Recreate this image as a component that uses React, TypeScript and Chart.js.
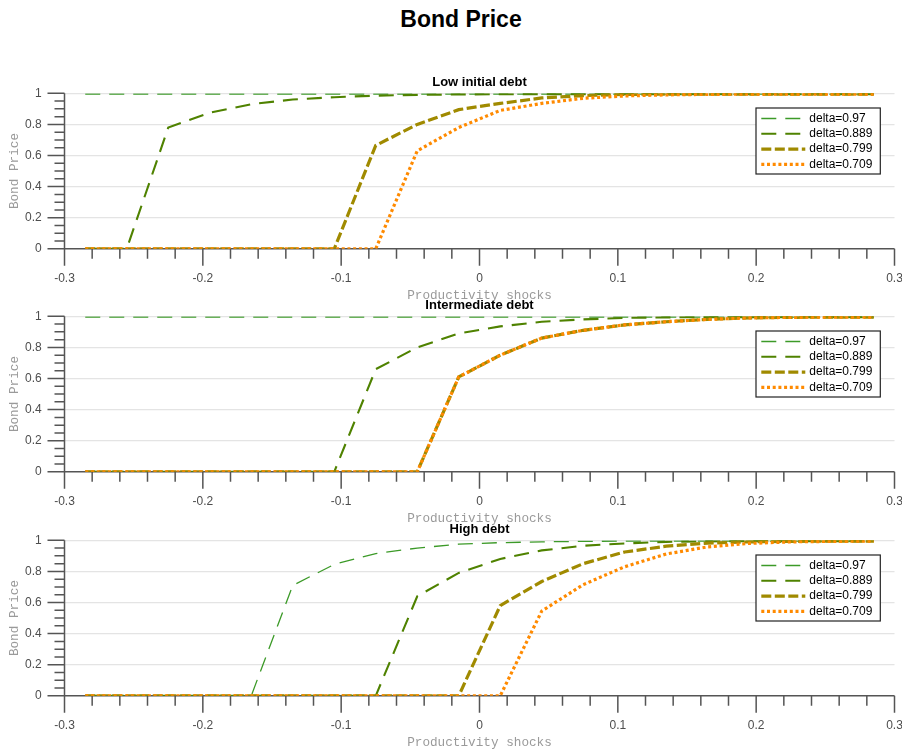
import React, { useEffect, useRef } from "react";
import { Chart, registerables } from "chart.js";

Chart.register(...registerables);

// ---------- data ----------
const shocks = [
  -0.285, -0.255, -0.225, -0.195, -0.165, -0.135, -0.105, -0.075, -0.045, -0.015,
  0.015, 0.045, 0.075, 0.105, 0.135, 0.165, 0.195, 0.225, 0.255, 0.285,
];

const deltaLabels = ["delta=0.97", "delta=0.889", "delta=0.799", "delta=0.709"];
const panelTitles = ["Low initial debt", "Intermediate debt", "High debt"];
const mainTitle = "Bond Price";
const xAxisTitle = "Productivity shocks";
const yAxisTitle = "Bond Price";

// Low initial debt
const lowD097 = [0.995, 0.995, 0.995, 0.995, 0.995, 0.995, 0.995, 0.995, 0.995, 0.995, 0.995, 0.995, 0.995, 0.995, 0.995, 0.995, 0.995, 0.995, 0.995, 0.995];
const lowD0889 = [0, 0, 0.78, 0.875, 0.93, 0.96, 0.975, 0.985, 0.99, 0.993, 0.994, 0.995, 0.995, 0.995, 0.995, 0.995, 0.995, 0.995, 0.995, 0.995];
const lowD0799 = [0, 0, 0, 0, 0, 0, 0, 0.665, 0.8, 0.895, 0.935, 0.97, 0.985, 0.993, 0.995, 0.995, 0.995, 0.995, 0.995, 0.995];
const lowD0709 = [0, 0, 0, 0, 0, 0, 0, 0, 0.63, 0.78, 0.89, 0.935, 0.968, 0.983, 0.99, 0.993, 0.995, 0.995, 0.995, 0.995];

// Intermediate debt
const midD097 = [0.995, 0.995, 0.995, 0.995, 0.995, 0.995, 0.995, 0.995, 0.995, 0.995, 0.995, 0.995, 0.995, 0.995, 0.995, 0.995, 0.995, 0.995, 0.995, 0.995];
const midD0889 = [0, 0, 0, 0, 0, 0, 0, 0.66, 0.8, 0.89, 0.935, 0.965, 0.98, 0.99, 0.993, 0.995, 0.995, 0.995, 0.995, 0.995];
const midD0799 = [0, 0, 0, 0, 0, 0, 0, 0, 0, 0.61, 0.75, 0.86, 0.91, 0.945, 0.965, 0.98, 0.99, 0.993, 0.995, 0.995];
const midD0709 = [0, 0, 0, 0, 0, 0, 0, 0, 0, 0.61, 0.75, 0.86, 0.91, 0.945, 0.965, 0.98, 0.99, 0.993, 0.995, 0.995];

// High debt
const highD097 = [0, 0, 0, 0, 0, 0.71, 0.845, 0.915, 0.95, 0.975, 0.985, 0.99, 0.993, 0.995, 0.995, 0.995, 0.995, 0.995, 0.995, 0.995];
const highD0889 = [0, 0, 0, 0, 0, 0, 0, 0, 0.64, 0.79, 0.88, 0.935, 0.965, 0.98, 0.99, 0.993, 0.995, 0.995, 0.995, 0.995];
const highD0799 = [0, 0, 0, 0, 0, 0, 0, 0, 0, 0, 0.58, 0.735, 0.85, 0.925, 0.962, 0.982, 0.99, 0.993, 0.995, 0.995];
const highD0709 = [0, 0, 0, 0, 0, 0, 0, 0, 0, 0, 0, 0.545, 0.715, 0.83, 0.912, 0.958, 0.98, 0.99, 0.993, 0.995];

const panelSeries = [
  [lowD097, lowD0889, lowD0799, lowD0709],
  [midD097, midD0889, midD0799, midD0709],
  [highD097, highD0889, highD0799, highD0709],
];

// ---------- styles ----------
const seriesStyles = [
  { color: "#3c9a28", width: 1.3, dash: [15, 9], order: 3 },
  { color: "#4f8200", width: 2.1, dash: [15, 9], order: 2 },
  { color: "#a08a00", width: 3.2, dash: [10, 3.5], order: 1 },
  { color: "#ff8a00", width: 3.2, dash: [3, 2.7], order: 0 },
];

const FONT = "'Liberation Sans', Arial, Helvetica, sans-serif";
const MONO = "'Liberation Mono', 'Courier New', monospace";
const AXIS_COLOR = "#555555";
const CANVAS_W = 902;
const CANVAS_H = 234;
const panelTops = [70, 292.7, 516.7];

const fmt = (v: any) => String(Math.round(Number(v) * 100) / 100);

const axesPlugin = {
  id: "matAxes",
  beforeDatasetsDraw(chart: any) {
    const { ctx, scales } = chart;
    const xs = scales.x;
    const ys = scales.y;
    const y0 = ys.getPixelForValue(0);
    const y1 = ys.getPixelForValue(1);
    const xl = xs.getPixelForValue(-0.3);
    const xr = xs.getPixelForValue(0.3);
    ctx.save();
    ctx.strokeStyle = AXIS_COLOR;
    ctx.lineWidth = 1.5;
    ctx.lineCap = "butt";
    ctx.setLineDash([]);
    ctx.beginPath();
    ctx.moveTo(xl - 17, y0);
    ctx.lineTo(xr, y0);
    ctx.moveTo(xl, y1);
    ctx.lineTo(xl, y0 + 17);
    for (let i = 0; i <= 20; i++) {
      const py = ys.getPixelForValue(i * 0.05);
      const len = i % 4 === 0 ? 17 : 10;
      ctx.moveTo(xl - len, py);
      ctx.lineTo(xl, py);
    }
    for (let i = -15; i <= 15; i++) {
      const px = xs.getPixelForValue(i * 0.02);
      const len = i % 5 === 0 ? 17 : 10;
      ctx.moveTo(px, y0);
      ctx.lineTo(px, y0 + len);
    }
    ctx.stroke();
    ctx.restore();
  },
};

const boxLegendPlugin = {
  id: "boxLegend",
  afterDatasetsDraw(chart: any) {
    const { ctx, chartArea } = chart;
    const datasets = chart.data.datasets;
    const w = 124.3;
    const h = 66;
    const left = chartArea.right - 14.2 - w;
    const top = chartArea.top + 14.7;
    ctx.save();
    ctx.fillStyle = "#ffffff";
    ctx.fillRect(left, top, w, h);
    ctx.strokeStyle = "#222222";
    ctx.lineWidth = 1.2;
    ctx.setLineDash([]);
    ctx.strokeRect(left, top, w, h);
    ctx.font = `12px ${FONT}`;
    ctx.textBaseline = "middle";
    ctx.textAlign = "left";
    datasets.forEach((ds: any, i: number) => {
      const cy = top + 10.5 + i * 15.3;
      ctx.beginPath();
      ctx.strokeStyle = ds.borderColor;
      ctx.lineWidth = ds.borderWidth;
      ctx.setLineDash(ds.borderDash || []);
      ctx.moveTo(left + 5.3, cy);
      ctx.lineTo(left + 49.3, cy);
      ctx.stroke();
      ctx.setLineDash([]);
      ctx.fillStyle = "#000000";
      ctx.fillText(ds.label, left + 53.3, cy);
    });
    ctx.restore();
  },
};

function Panel({ index }: { index: number }) {
  const ref = useRef<HTMLCanvasElement | null>(null);
  useEffect(() => {
    if (!ref.current) return;
    const series = panelSeries[index];
    const datasets = series.map((ys, k) => ({
      label: deltaLabels[k],
      data: shocks.map((x, j) => ({ x, y: ys[j] })),
      borderColor: seriesStyles[k].color,
      backgroundColor: seriesStyles[k].color,
      borderWidth: seriesStyles[k].width,
      borderDash: seriesStyles[k].dash,
      borderCapStyle: "butt",
      order: seriesStyles[k].order,
      pointRadius: 0,
      tension: 0,
      fill: false,
    }));
    const chart = new Chart(ref.current, {
      type: "line",
      data: { datasets } as any,
      options: {
        animation: false,
        responsive: false,
        devicePixelRatio: 1,
        layout: { padding: { left: 0, right: 7.5, top: 0, bottom: 0 } },
        plugins: {
          legend: { display: false },
          tooltip: { enabled: false },
          title: {
            display: true,
            text: panelTitles[index],
            fullSize: false,
            color: "#000000",
            font: { family: FONT, size: 13, weight: "bold" },
            padding: { top: 4.7, bottom: 3.0 },
          },
        },
        scales: {
          x: {
            type: "linear",
            min: -0.3,
            max: 0.3,
            border: { display: false },
            grid: { display: false, drawTicks: false },
            ticks: {
              stepSize: 0.1,
              autoSkip: false,
              maxRotation: 0,
              padding: 22.3,
              color: "#4d4d4d",
              font: { family: FONT, size: 12 },
              callback: (v: any) => fmt(v),
            },
            title: {
              display: true,
              text: xAxisTitle,
              color: "#9a9a9a",
              font: { family: MONO, size: 12.7 },
              padding: { top: 0, bottom: 0.4 },
            },
            afterFit: (scale: any) => {
              scale.height = CANVAS_H - 23.3 - 155.5;
              scale.paddingLeft = 0;
              scale.paddingRight = 0;
            },
          },
          y: {
            type: "linear",
            min: 0,
            max: 1,
            border: { display: false },
            grid: {
              display: true,
              drawTicks: false,
              color: (c: any) => (c.tick && c.tick.value === 0 ? "rgba(0,0,0,0)" : "#e4e4e4"),
              lineWidth: 1.2,
            },
            ticks: {
              stepSize: 0.2,
              autoSkip: false,
              padding: 22.8,
              color: "#4d4d4d",
              font: { family: FONT, size: 12 },
              callback: (v: any) => fmt(v),
            },
            title: {
              display: true,
              text: yAxisTitle,
              color: "#9a9a9a",
              font: { family: MONO, size: 12.7 },
              padding: { top: 7.2, bottom: 0 },
            },
            afterFit: (scale: any) => {
              scale.width = 64.5;
              scale.paddingTop = 0;
              scale.paddingBottom = 0;
            },
          },
        },
      } as any,
      plugins: [axesPlugin, boxLegendPlugin],
    });
    return () => chart.destroy();
  }, [index]);
  return (
    <canvas
      ref={ref}
      width={CANVAS_W}
      height={CANVAS_H}
      style={{
        position: "absolute",
        left: 0,
        top: panelTops[index],
        width: CANVAS_W,
        height: CANVAS_H,
      }}
    />
  );
}

export default function App() {
  return (
    <div
      style={{
        position: "absolute",
        left: 0,
        top: 0,
        width: 902,
        height: 753,
        overflow: "hidden",
        background: "#ffffff",
      }}
    >
      <div
        style={{
          position: "absolute",
          left: 0,
          top: 0,
          width: 922,
          height: 38,
          lineHeight: "38px",
          textAlign: "center",
          fontFamily: FONT,
          fontWeight: "bold",
          fontSize: 23,
          color: "#000000",
        }}
      >
        {mainTitle}
      </div>
      <Panel index={0} />
      <Panel index={1} />
      <Panel index={2} />
    </div>
  );
}
